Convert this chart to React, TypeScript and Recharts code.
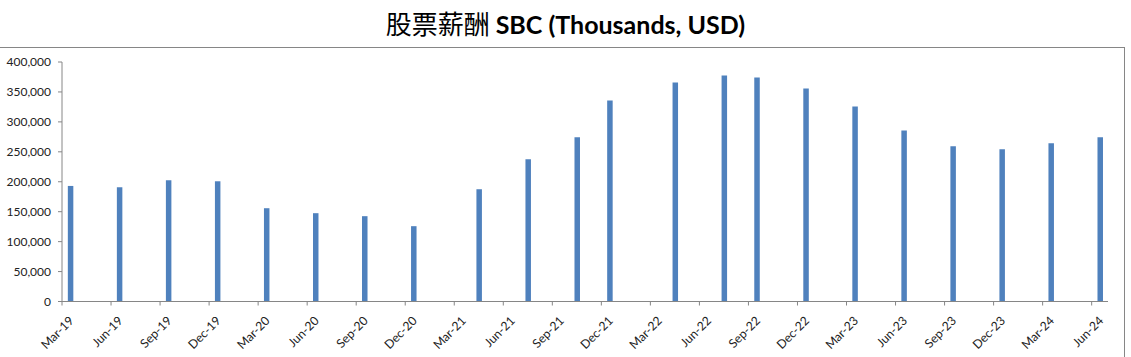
import React from "react";
import { BarChart, Bar, XAxis, YAxis } from "recharts";

// quarter-end periods that have a reported value (YYYY-MM)
const periods = [
    "2019-03", "2019-06", "2019-09", "2019-12",
    "2020-03", "2020-06", "2020-09", "2020-12",
    "2021-04", "2021-07", "2021-10", "2021-12",
    "2022-04", "2022-07", "2022-09", "2022-12",
    "2023-03", "2023-06", "2023-09", "2023-12",
    "2024-03", "2024-06",
];

// stock based compensation, thousands USD
const sbcValues = [
    193000, 190800, 202500, 200800,
    155800, 147500, 142500, 125800,
    187500, 237500, 274200, 335800,
    365800, 377500, 374200, 355800,
    325800, 285800, 259200, 254200,
    264200, 274200,
];

const tickLabels = [
    "Mar-19", "Jun-19", "Sep-19", "Dec-19",
    "Mar-20", "Jun-20", "Sep-20", "Dec-20",
    "Mar-21", "Jun-21", "Sep-21", "Dec-21",
    "Mar-22", "Jun-22", "Sep-22", "Dec-22",
    "Mar-23", "Jun-23", "Sep-23", "Dec-23",
    "Mar-24", "Jun-24",
];

const yTicks = [0, 50000, 100000, 150000, 200000, 250000, 300000, 350000, 400000];

// months counted from Mar-19
const monthIndex = (p: string) => {
    const [y, m] = p.split("-").map(Number);
    return (y - 2019) * 12 + (m - 3);
};

const data = periods.map((p, i) => ({ t: monthIndex(p) + 0.5, sbc: sbcValues[i] }));
const xTicks = tickLabels.map((_, i) => i * 3);

const AXIS = "#868686";
const FONT = "Lato, 'Noto Sans', sans-serif";

const DateTick = (props: any) => {
    const { x, y, payload } = props;
    const ax = x + 12.5;
    const ay = y + 14;
    return (
        <text
            x={ax}
            y={ay}
            textAnchor="end"
            fontSize={12.2}
            fontFamily={FONT}
            fill="#222"
            transform={`rotate(-45, ${ax}, ${ay})`}
        >
            {tickLabels[payload.value / 3]}
        </text>
    );
};

export default function App() {
    return (
        <div style={{ position: "absolute", left: 0, top: 0, width: 1131, height: 357, background: "#fff", overflow: "hidden" }}>
            {/* chart frame */}
            <div
                style={{
                    position: "absolute",
                    left: -2,
                    top: 47,
                    width: 1127,
                    height: 330,
                    border: `1px solid ${AXIS}`,
                    boxSizing: "border-box",
                }}
            />
            <div
                style={{
                    position: "absolute",
                    left: 0,
                    top: 6,
                    width: 1131,
                    textAlign: "center",
                    fontSize: 25,
                    lineHeight: "34px",
                    color: "#000",
                    whiteSpace: "nowrap",
                }}
            >
                <span style={{ fontFamily: "'Noto Sans CJK SC'", fontWeight: 400, fontSize: 26 }}>股票薪酬 </span>
                <span style={{ fontFamily: FONT, fontWeight: 700 }}>SBC (Thousands, USD)</span>
            </div>
            <div style={{ position: "absolute", left: 0, top: 0 }}>
                <BarChart width={1131} height={357} data={data} margin={{ top: 62, right: 23, left: 2, bottom: 5.5 }}>
                    <XAxis
                        dataKey="t"
                        type="number"
                        domain={[0, 64]}
                        ticks={xTicks}
                        interval={0}
                        allowDataOverflow
                        height={50}
                        stroke={AXIS}
                        tickSize={4}
                        tick={<DateTick />}
                    />
                    <YAxis
                        width={60}
                        domain={[0, 400000]}
                        ticks={yTicks}
                        interval={0}
                        stroke={AXIS}
                        tickSize={4}
                        tickMargin={7}
                        tickFormatter={(v: number) => v.toLocaleString("en-US")}
                        tick={{ fill: "#222", fontSize: 12, fontFamily: FONT }}
                    />
                    <Bar dataKey="sbc" fill="#4F81BD" barSize={5.5} isAnimationActive={false} />
                </BarChart>
            </div>
        </div>
    );
}
